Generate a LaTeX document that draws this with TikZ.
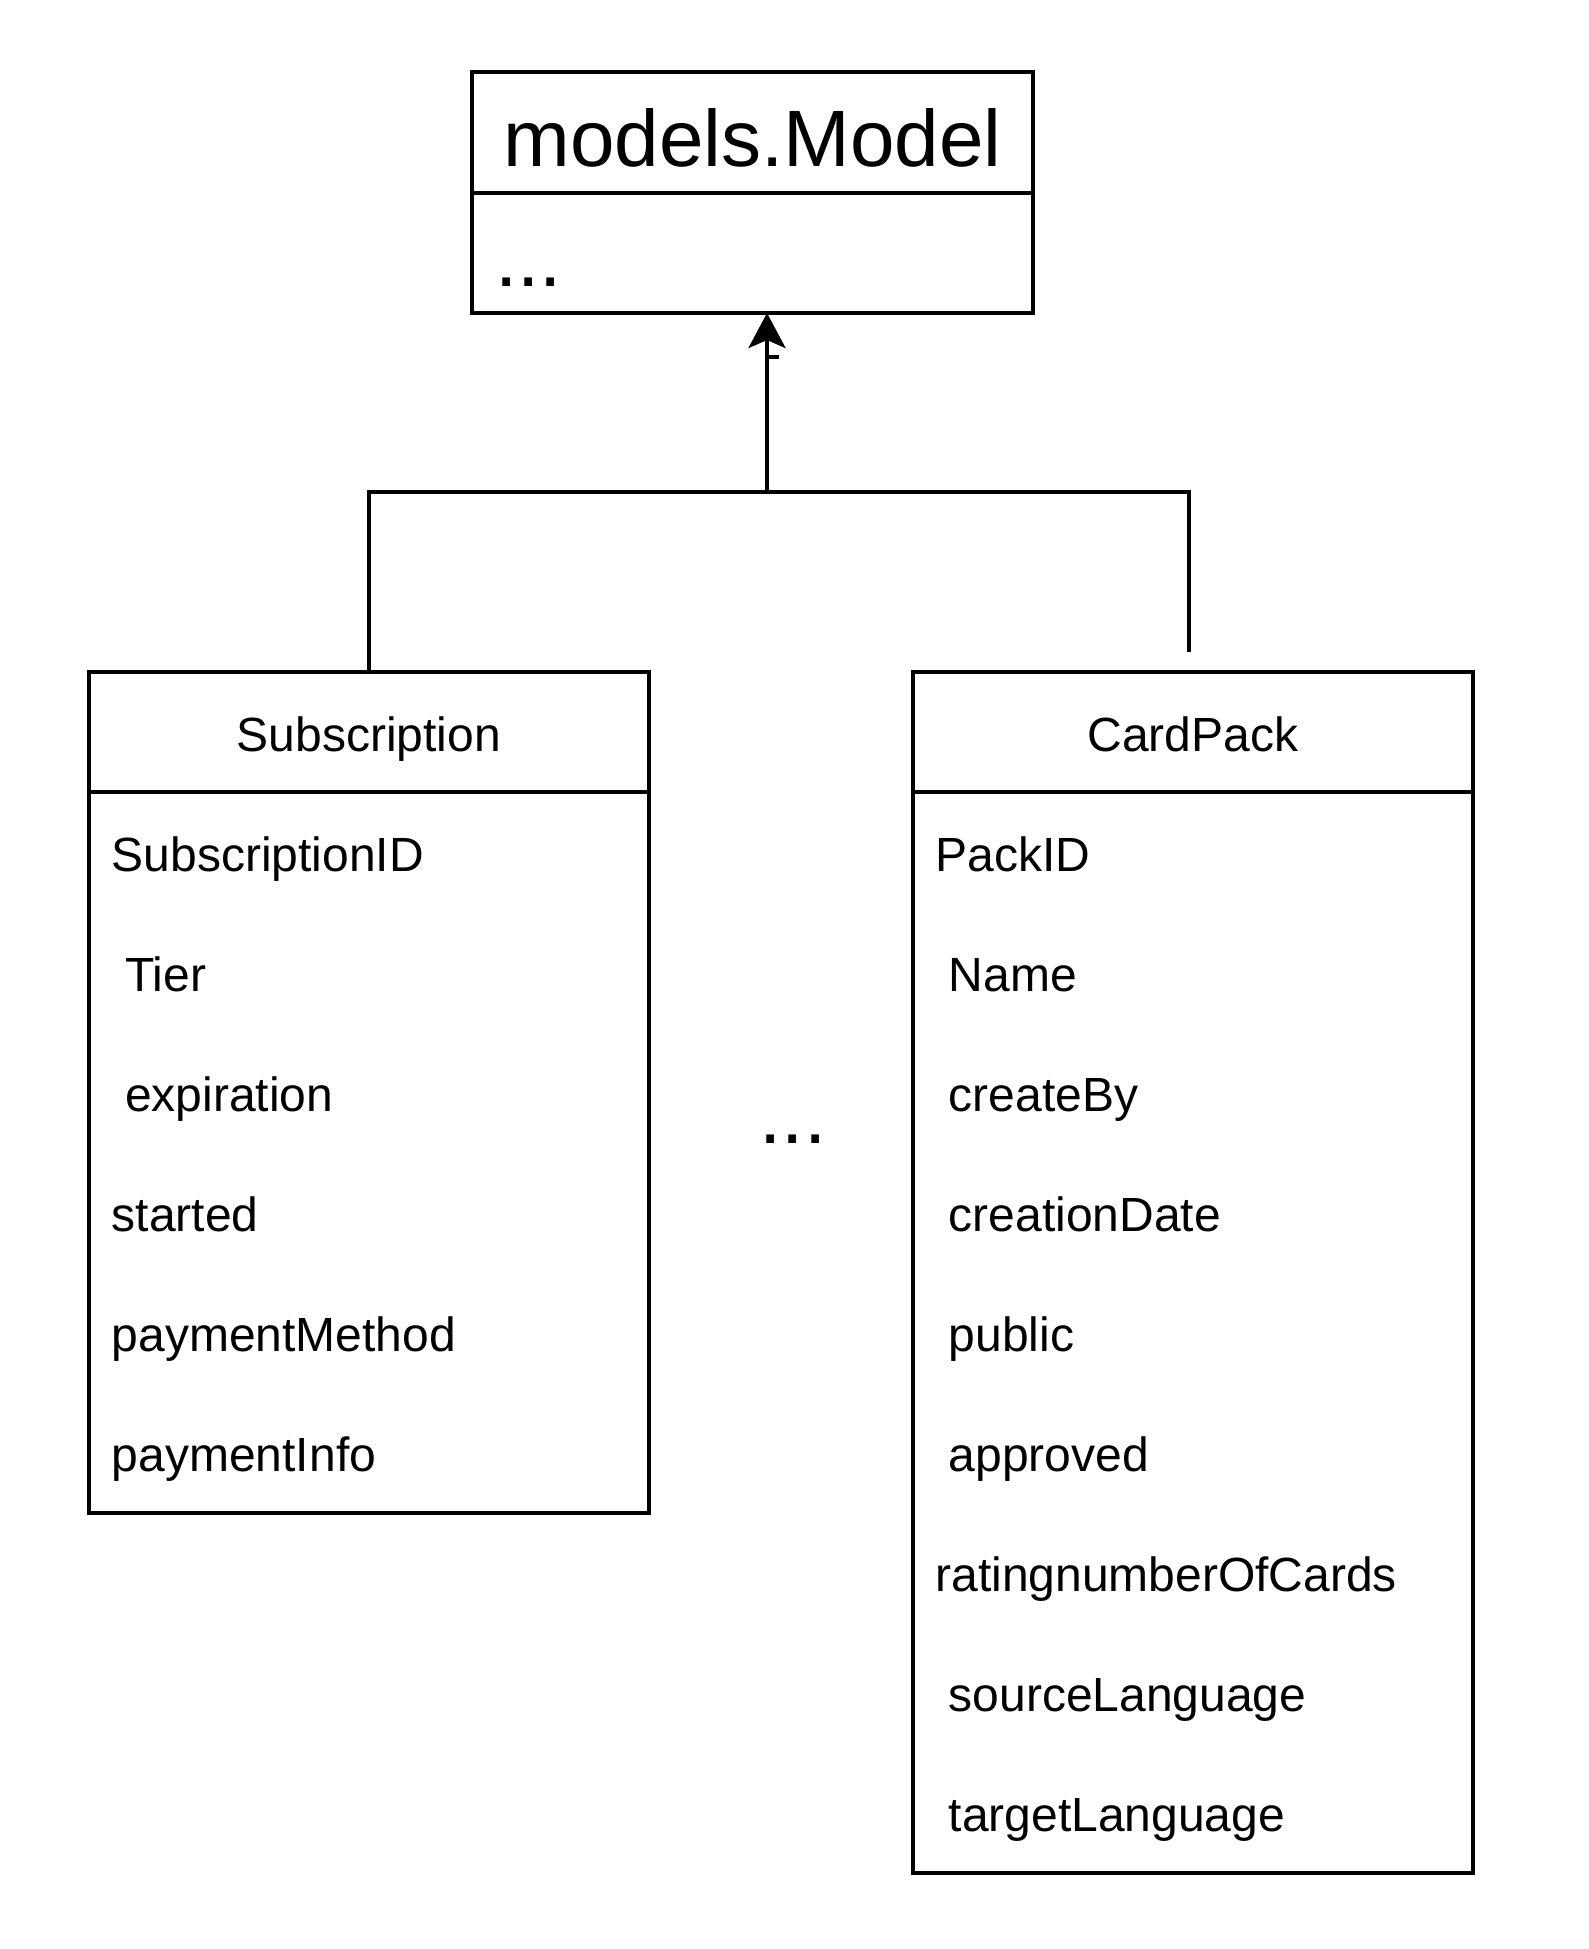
\documentclass[tikz,border=0pt]{standalone}
\usepackage{fontspec}
\setmainfont{Liberation Sans}
\usetikzlibrary{arrows.meta}
\begin{document}
\begin{tikzpicture}[x=0.5pt,y=-0.5pt,
  cls/.style={draw=black, line width=2pt, fill=white, inner sep=0pt, outer sep=0pt, minimum width=280pt},
  divider/.style={line width=2pt},
  attr/.style={anchor=base west, inner sep=0pt, font=\fontsize{24pt}{28pt}\selectfont},
  ttl/.style={anchor=base, inner sep=0pt, font=\fontsize{24pt}{28pt}\selectfont},
  big/.style={anchor=base west, inner sep=0pt, font=\fontsize{40pt}{46pt}\selectfont},
  conn/.style={line width=2pt, line join=miter}]
\useasboundingbox (0,0) rectangle (1589,1949);

% models.Model
\node[cls, minimum width=280.5pt, minimum height=120.5pt] (model) at (752.5,192.5) {};
\draw[divider] (model.west) -- (model.east);
\node[big, anchor=base] (modeltitle) at (752.5,166) {models.Model};
\node[big] (modeldots) at (495,286) {...};

% Subscription
\node[cls, minimum height=420.5pt] (sub) at (369,1092.75) {};
\draw[divider] (sub.north west) ++(0,120) -- ++(560,0);
\node[ttl] (subtitle) at (369,751) {Subscription};
\foreach \t [count=\k from 0] in {SubscriptionID,\ Tier,\ expiration,started,paymentMethod,paymentInfo}
  \node[attr] (sa\k) at (111.5,871+120*\k) {\t};

% CardPack
\node[cls, minimum height=600.5pt] (card) at (1193,1272.75) {};
\draw[divider] (card.north west) ++(0,120) -- ++(560,0);
\node[ttl] (cardtitle) at (1193,751) {CardPack};
\foreach \t [count=\k from 0] in {PackID,\ Name,\ createBy,\ creationDate,\ public,\ approved,ratingnumberOfCards,\ sourceLanguage,\ targetLanguage}
  \node[attr] (ca\k) at (935,871+120*\k) {\t};

% middle ellipsis
\node[big, anchor=base] (mid) at (793,1143) {...};

% connectors
\coordinate (j) at (767,492);
\coordinate (cpend) at (1189,652);
\draw[conn] (sub.north) |- (j) -| (cpend);
\draw[conn, -{Stealth[length=17.5pt, width=18.5pt, inset=4pt]}] (j) -- (j |- model.south);
\coordinate (tick) at (767,357);
\draw[conn] (tick) -- ++(12,0);
\end{tikzpicture}
\end{document}
